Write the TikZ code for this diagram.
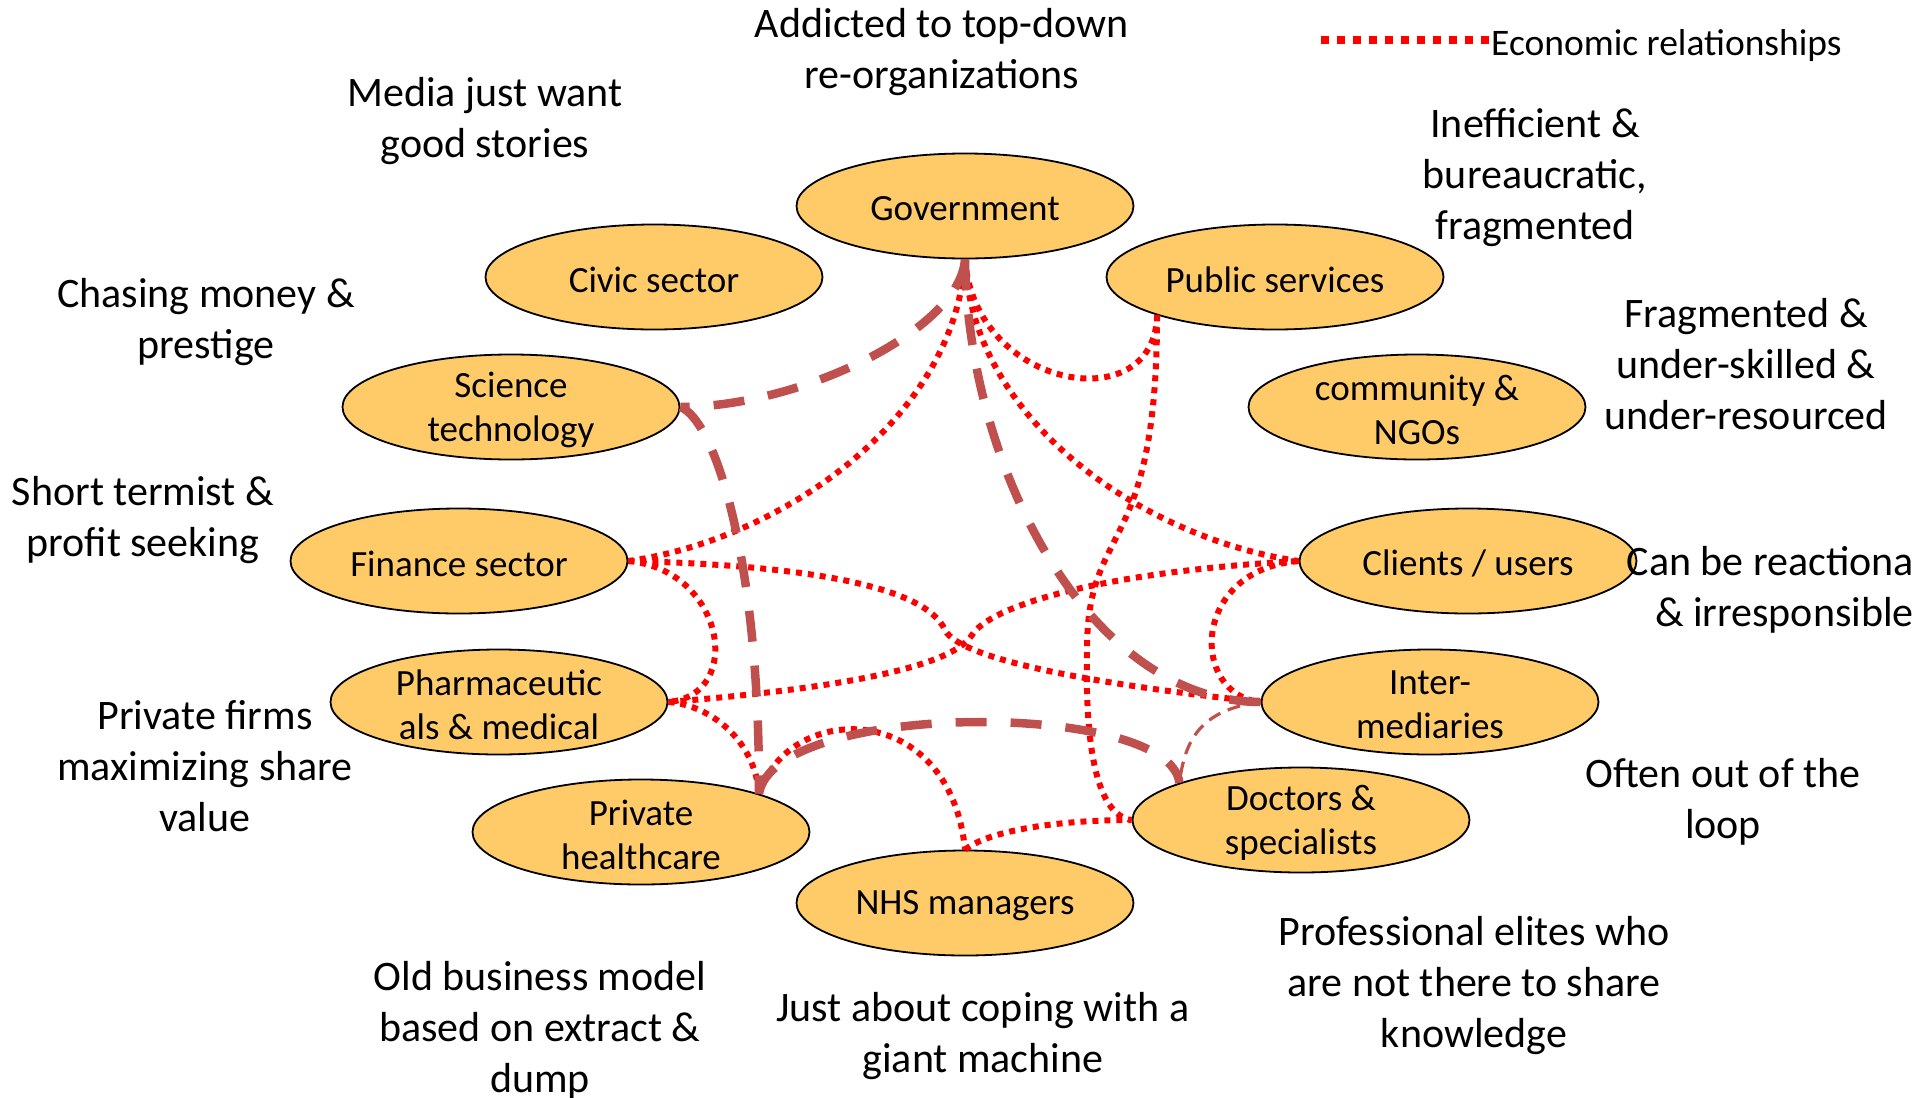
\documentclass[tikz,border=0pt]{standalone}
\usepackage{fontspec}
\setmainfont{Carlito}
\usetikzlibrary{shapes.geometric}
\definecolor{nodefill}{RGB}{254,203,104}
\definecolor{polred}{RGB}{192,80,77}
\definecolor{econred}{RGB}{255,0,0}
\begin{document}
\begin{tikzpicture}[x=1pt,y=-1pt,
  blob/.style={ellipse, draw=black, line width=1.8pt, fill=nodefill, minimum width=337pt, minimum height=105pt, inner sep=0pt},
  lbl/.style={font=\fontsize{37}{44}\selectfont, align=center, inner sep=0pt, yshift=-2.5pt},
  note/.style={font=\fontsize{42}{51}\selectfont, align=center, inner sep=0pt, yshift=-2.5pt},
  econ/.style={draw=econred, line width=6pt, dash pattern=on 6pt off 6pt},
  pol/.style={draw=polred, line width=8.5pt, dash pattern=on 31pt off 24pt},
  polthin/.style={draw=polred, line width=3.2pt, dash pattern=on 13pt off 8pt},
  legdot/.style={draw=econred, line width=8pt, dash pattern=on 8pt off 8pt}
]
\useasboundingbox (0,0) rectangle (1915,1098);
\clip (0,0) rectangle (1915,1098);
\fill[white] (0,0) rectangle (1915,1098);

% ellipses
\node[blob, label={[lbl]center:Government}] (gov) at (965,206) {};
\node[blob, label={[lbl]center:Civic sector}] (civ) at (654,277) {};
\node[blob, label={[lbl]center:Public services}] (pub) at (1275,277) {};
\node[blob, label={[lbl]center:{Science\\technology}}] (sci) at (511,407) {};
\node[blob, label={[lbl]center:{community \&\\NGOs}}] (ngo) at (1417,407) {};
\node[blob, label={[lbl]center:Finance sector}] (fin) at (459,561) {};
\node[blob, label={[lbl]center:Clients / users}] (cli) at (1468,561) {};
\node[blob, label={[lbl]center:{Pharmaceutic\\als \& medical}}] (pha) at (499,702) {};
\node[blob, label={[lbl]center:{Inter-\\mediaries}}] (int) at (1430,702) {};
\node[blob, label={[lbl]center:{Private\\healthcare}}] (pri) at (641,832) {};
\node[blob, label={[lbl]center:{Doctors \&\\specialists}}] (doc) at (1301,820) {};
\node[blob, label={[lbl]center:NHS managers}] (nhs) at (965,903) {};

% economic relationships (dotted)
\draw[econ] (gov.south) .. controls (955,420) and (780,540) .. (fin.east);
\draw[econ] (gov.south) .. controls (972,425) and (1150,540) .. (cli.west);
\draw[econ] (gov.south) .. controls (975,390) and (1155,420) .. (pub.198);
\draw[econ] (pub.198) .. controls (1157,560) and (1087,520) .. (1087,650) .. controls (1085,740) and (1095,815) .. (doc.west);
\draw[econ] (fin.east) .. controls (800,565) and (925,585) .. (945,630) .. controls (960,660) and (1100,685) .. (int.west);
\draw[econ] (pha.east) .. controls (820,690) and (950,670) .. (972,635) .. controls (990,606) and (1100,572) .. (cli.west);
\draw[econ] (fin.east) .. controls (725,570) and (745,695) .. (pha.east);
\draw[econ] (pha.east) .. controls (710,705) and (755,740) .. (pri.18);
\draw[econ] (pri.18) .. controls (790,700) and (950,700) .. (nhs.north);
\draw[econ] (nhs.north) .. controls (990,830) and (1060,820) .. (doc.west);
\draw[econ] (cli.west) .. controls (1190,570) and (1190,695) .. (int.west);

% other relationships (dashed)
\draw[pol] (gov.south) .. controls (960,330) and (800,407) .. (sci.east);
\draw[pol] (sci.east) .. controls (715,420) and (760,560) .. (pri.18);
\draw[pol] (gov.south) .. controls (968,470) and (1090,702) .. (int.west);
\draw[pol] (pri.18) .. controls (775,700) and (1170,700) .. (doc.163);
\draw[polthin] (int.west) .. controls (1200,710) and (1185,740) .. (doc.163);

% outer notes
\node[note] (t1) at (942,50) {Addicted to top-down\\re-organizations};
\node[note] (t2) at (485,119) {Media just want\\good stories};
\node[note] (t3) at (1535,175) {Inefficient \&\\bureaucratic,\\fragmented};
\node[note] (t4) at (206,320) {Chasing money \&\\prestige};
\node[note] (t5) at (1746,362) {Fragmented \&\\under-skilled \&\\under-resourced};
\node[note] (t6) at (143,518) {Short termist \&\\profit seeking};
\node[note, align=right, anchor=east] (t7) at (1914,587) {Can be reactiona\\\& irresponsible};
\node[note] (t8) at (205,764) {Private firms\\maximizing share\\value};
\node[note] (t9) at (1723,799) {Often out of the\\loop};
\node[note] (t10) at (540,1028) {Old business model\\based on extract \&\\dump};
\node[note] (t11) at (983,1034) {Just about coping with a\\giant machine};
\node[note] (t12) at (1474,983) {Professional elites who\\are not there to share\\knowledge};

% legend
\coordinate (legA) at (1321,40);
\node[anchor=base west, font=\fontsize{37.5}{45}\selectfont, inner sep=0pt] (legtxt) at (1491,55) {Economic relationships};
\draw[legdot] (legA) -- (legA -| legtxt.west);
\end{tikzpicture}
\end{document}
